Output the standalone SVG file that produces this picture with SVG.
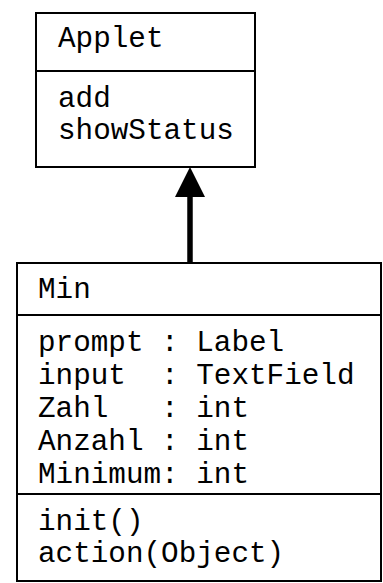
<svg xmlns="http://www.w3.org/2000/svg" width="383" height="583" viewBox="0 0 383 583">
  <style>
    .box { fill: #fff; stroke: #000; stroke-width: 2; }
    .sep { stroke: #000; stroke-width: 2; }
    .t { font-family: "Liberation Mono", "Courier New", monospace; font-size: 29.3px; fill: #000; white-space: pre; }
  </style>
  <rect width="383" height="583" fill="#fff"/>

  <!-- inheritance connector: Min extends Applet -->
  <g id="connectors">
    <line x1="190" y1="263" x2="190" y2="195" stroke="#000" stroke-width="5.5"/>
    <polygon points="190,167 175,197 205,197" fill="#000"/>
  </g>

  <g id="applet">
    <rect class="box" x="36" y="13" width="219" height="154"/>
    <line class="sep" x1="36" y1="71" x2="255" y2="71"/>
    <text class="t" x="58" y="47">Applet</text>
    <text class="t" x="58" y="107">add</text>
    <text class="t" x="58" y="139">showStatus</text>
  </g>

  <g id="min">
    <rect class="box" x="17" y="263" width="364" height="318"/>
    <line class="sep" x1="17" y1="315" x2="381" y2="315"/>
    <line class="sep" x1="17" y1="494" x2="381" y2="494"/>
    <text class="t" x="38" y="298">Min</text>
    <text class="t" x="38" y="351">prompt : Label</text>
    <text class="t" x="38" y="384">input  : TextField</text>
    <text class="t" x="38" y="417">Zahl   : int</text>
    <text class="t" x="38" y="450">Anzahl : int</text>
    <text class="t" x="38" y="483">Minimum: int</text>
    <text class="t" x="38" y="530">init()</text>
    <text class="t" x="38" y="562">action(Object)</text>
  </g>
</svg>
